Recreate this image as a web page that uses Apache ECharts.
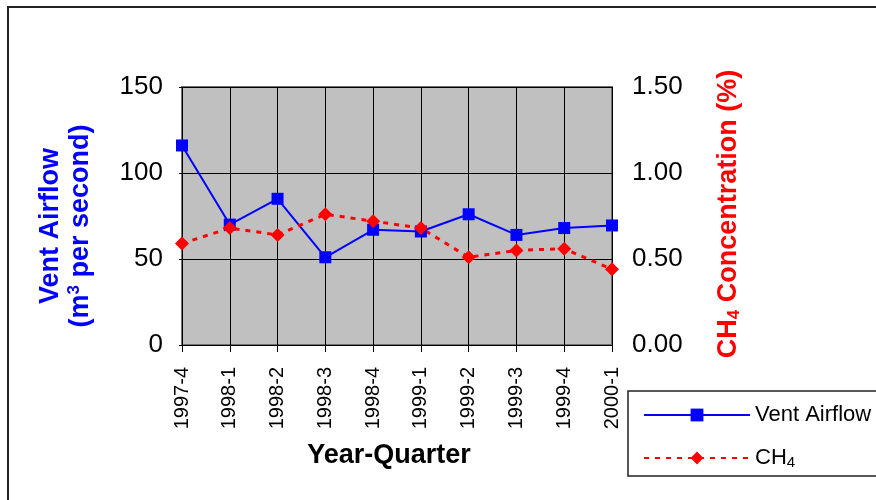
<!DOCTYPE html>
<html>
<head>
<meta charset="utf-8">
<script src="https://cdn.jsdelivr.net/npm/echarts@6/dist/echarts.min.js"></script>
<style>
  html, body { margin: 0; padding: 0; background: #fff; }
  #chart { width: 876px; height: 500px; }
</style>
</head>
<body>
<div id="chart"></div>
<script>
  const quarters = ['1997-4', '1998-1', '1998-2', '1998-3', '1998-4', '1999-1', '1999-2', '1999-3', '1999-4', '2000-1'];
  const ventAirflow = [116, 70, 85, 51, 67, 66, 76, 64, 68, 69.5];
  const ch4 = [0.59, 0.68, 0.64, 0.76, 0.72, 0.68, 0.51, 0.55, 0.56, 0.44];

  const font = 'Liberation Sans, Arial, sans-serif';
  const chart = echarts.init(document.getElementById('chart'), null, { renderer: 'canvas' });

  chart.setOption({
    animation: false,
    textStyle: { fontFamily: font },
    grid: {
      left: 182, right: 264, top: 87, bottom: 155,
      show: true, backgroundColor: '#c0c0c0', borderColor: '#707070', borderWidth: 2,
      outerBoundsMode: 'none',
    },
    legend: {
      orient: 'vertical', left: 638, top: 399,
      itemWidth: 106, itemHeight: 16, itemGap: 21,
      textStyle: {
        fontSize: 22, color: '#000', fontFamily: font,
        rich: { sub: { fontSize: 15, verticalAlign: 'bottom', padding: [10, 0, 0, 0], fontFamily: font } },
      },
      formatter: (name) => (name === 'CH4' ? 'CH{sub|4}' : name),
      data: ['Vent Airflow', 'CH4'],
    },
    xAxis: {
      type: 'category', data: quarters, boundaryGap: false,
      axisLine: { show: false },
      axisTick: { show: true, length: 7, lineStyle: { color: '#000' } },
      axisLabel: { rotate: 90, margin: 22, fontSize: 20, color: '#000', fontFamily: font },
      splitLine: { show: true, lineStyle: { color: '#000', width: 1 } },
    },
    yAxis: [
      {
        type: 'value', min: 0, max: 150, interval: 50,
        axisLine: { show: false },
        axisTick: { show: true, length: 3, lineStyle: { color: '#000' } },
        axisLabel: { fontSize: 26, color: '#000', margin: 19, fontFamily: font },
        splitLine: { show: true, lineStyle: { color: '#000', width: 1 } },
      },
      {
        type: 'value', min: 0, max: 1.5, interval: 0.5,
        axisLine: { show: false },
        axisTick: { show: false },
        axisLabel: { fontSize: 26, color: '#000', margin: 20, fontFamily: font, formatter: (v) => v.toFixed(2) },
        splitLine: { show: false },
      },
    ],
    series: [
      {
        name: 'Vent Airflow', type: 'line', yAxisIndex: 0, data: ventAirflow,
        symbol: 'rect', symbolSize: 12,
        itemStyle: { color: '#0000ff' },
        lineStyle: { color: '#0000ff', width: 2 },
      },
      {
        name: 'CH4', type: 'line', yAxisIndex: 1, data: ch4,
        symbol: 'diamond', symbolSize: 14,
        itemStyle: { color: '#ff0000' },
        lineStyle: { color: '#ff0000', width: 3, type: [5, 6] },
        z: 3,
      },
    ],
    graphic: [
      { type: 'rect', shape: { x: 8, y: 7, width: 900, height: 520 }, style: { fill: 'none', stroke: '#222', lineWidth: 2 }, silent: true },
      { type: 'rect', shape: { x: 628, y: 391, width: 300, height: 85 }, style: { fill: 'none', stroke: '#222', lineWidth: 1.5 }, silent: true },
      {
        type: 'text', x: 389, y: 456,
        style: { text: 'Year-Quarter', font: 'bold 27px ' + font, fill: '#000', align: 'center', verticalAlign: 'middle' },
      },
      {
        type: 'text', x: 66, y: 226, rotation: Math.PI / 2,
        style: {
          text: 'Vent Airflow\n(m{sup|3} per second)', font: 'bold 27px ' + font, fill: '#0000ff',
          align: 'center', verticalAlign: 'middle', lineHeight: 30,
          rich: { sup: { font: 'bold 17px ' + font, fill: '#0000ff', verticalAlign: 'top', padding: [0, 0, 12, 0] } },
        },
      },
      {
        type: 'text', x: 729, y: 214, rotation: Math.PI / 2,
        style: {
          text: 'CH{sub|4} Concentration (%)', font: 'bold 27px ' + font, fill: '#ff0000',
          align: 'center', verticalAlign: 'middle',
          rich: { sub: { font: 'bold 17px ' + font, fill: '#ff0000', verticalAlign: 'bottom', padding: [10, 0, 0, 0] } },
        },
      },
    ],
  });

  window.addEventListener('resize', () => chart.resize());
</script>
</body>
</html>
